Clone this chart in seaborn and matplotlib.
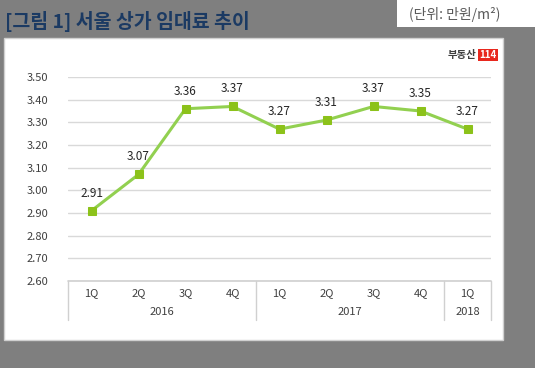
import matplotlib
matplotlib.use("Agg")
import matplotlib.pyplot as plt
import seaborn as sns
import pandas as pd
from matplotlib.patches import Rectangle

quarters = ["1Q", "2Q", "3Q", "4Q", "1Q", "2Q", "3Q", "4Q", "1Q"]
years = ["2016", "2017", "2018"]
year_spans = [(0, 3), (4, 7), (8, 8)]
values = [2.91, 3.07, 3.36, 3.37, 3.27, 3.31, 3.37, 3.35, 3.27]
yticks = [2.60, 2.70, 2.80, 2.90, 3.00, 3.10, 3.20, 3.30, 3.40, 3.50]

sns.set_theme(style="white")
plt.rcParams['font.family'] = ['Noto Sans CJK KR', 'DejaVu Sans']

W, H = 535, 368
fig = plt.figure(figsize=(W / 100, H / 100), dpi=100)
fig.patch.set_facecolor("#7F7F7F")

# white panel
fig.add_artist(Rectangle((4 / W, 1 - 340 / H), (503 - 4) / W, (340 - 38) / H,
                         transform=fig.transFigure, facecolor="white",
                         edgecolor="#D0D0D0", lw=1, zorder=0))
# unit box
fig.add_artist(Rectangle((397 / W, 1 - 27 / H), (540 - 397) / W, 27 / H,
                         transform=fig.transFigure, facecolor="white",
                         edgecolor="none", zorder=0))
fig.text(455 / W, 1 - 14 / H, "(단위: 만원/m²)", ha="center", va="center",
         fontsize=10, color="#595959")
fig.text(5 / W, 1 - 21 / H, "[그림 1] 서울 상가 임대료 추이", ha="left", va="center",
         fontsize=14, fontweight="bold", color="#1B3A63")

# logo
fig.text(476 / W, 1 - 55 / H, "부동산", ha="right", va="center",
         fontsize=7.5, fontweight="bold", color="#404040")
fig.text(488 / W, 1 - 55 / H, "114", ha="center", va="center",
         fontsize=7, fontweight="bold", color="white",
         bbox=dict(boxstyle="square,pad=0.15", facecolor="#E8281E", edgecolor="none"))

ax = fig.add_axes([68 / W, 1 - 281 / H, (491 - 68) / W, (281 - 77) / H])
ax.set_facecolor("none")

df = pd.DataFrame({"x": list(range(len(values))), "v": values})
sns.lineplot(data=df, x="x", y="v", ax=ax, color="#92D050", lw=2.2,
             marker="s", markersize=6, markerfacecolor="#8CC21A",
             markeredgecolor="#8CC21A", zorder=5)

for i, v in enumerate(values):
    ax.annotate(f"{v:.2f}", (i, v), xytext=(0, 8), textcoords="offset points",
                ha="center", va="bottom", fontsize=8.5, color="#262626")

ax.set_xlim(-0.5, len(values) - 0.5)
ax.set_ylim(2.60, 3.50)
ax.set_yticks(yticks)
ax.set_yticklabels([f"{t:.2f}" for t in yticks], fontsize=8, color="#404040")
ax.tick_params(axis="y", length=0, pad=14)
ax.set_xticks([])
ax.set_xlabel("")
ax.set_ylabel("")
for t in yticks:
    ax.axhline(t, color="#D9D9D9", lw=1, zorder=0)
for s in ax.spines.values():
    s.set_visible(False)
ax.axhline(2.60, color="#D0D0D0", lw=1.2, zorder=1, clip_on=False)

# category axis
tr = ax.get_xaxis_transform()
for i, q in enumerate(quarters):
    ax.text(i, -0.058, q, transform=tr, ha="center", va="center",
            fontsize=8, color="#404040")
for (a, b), y in zip(year_spans, years):
    ax.text((a + b) / 2, -0.152, y, transform=tr, ha="center", va="center",
            fontsize=8, color="#404040")
for xs in [-0.5, 3.5, 7.5, 8.5]:
    ax.plot([xs, xs], [0, -0.19], transform=tr, color="#D0D0D0", lw=1,
            clip_on=False)

fig.savefig("out.png", dpi=100, facecolor=fig.get_facecolor())
